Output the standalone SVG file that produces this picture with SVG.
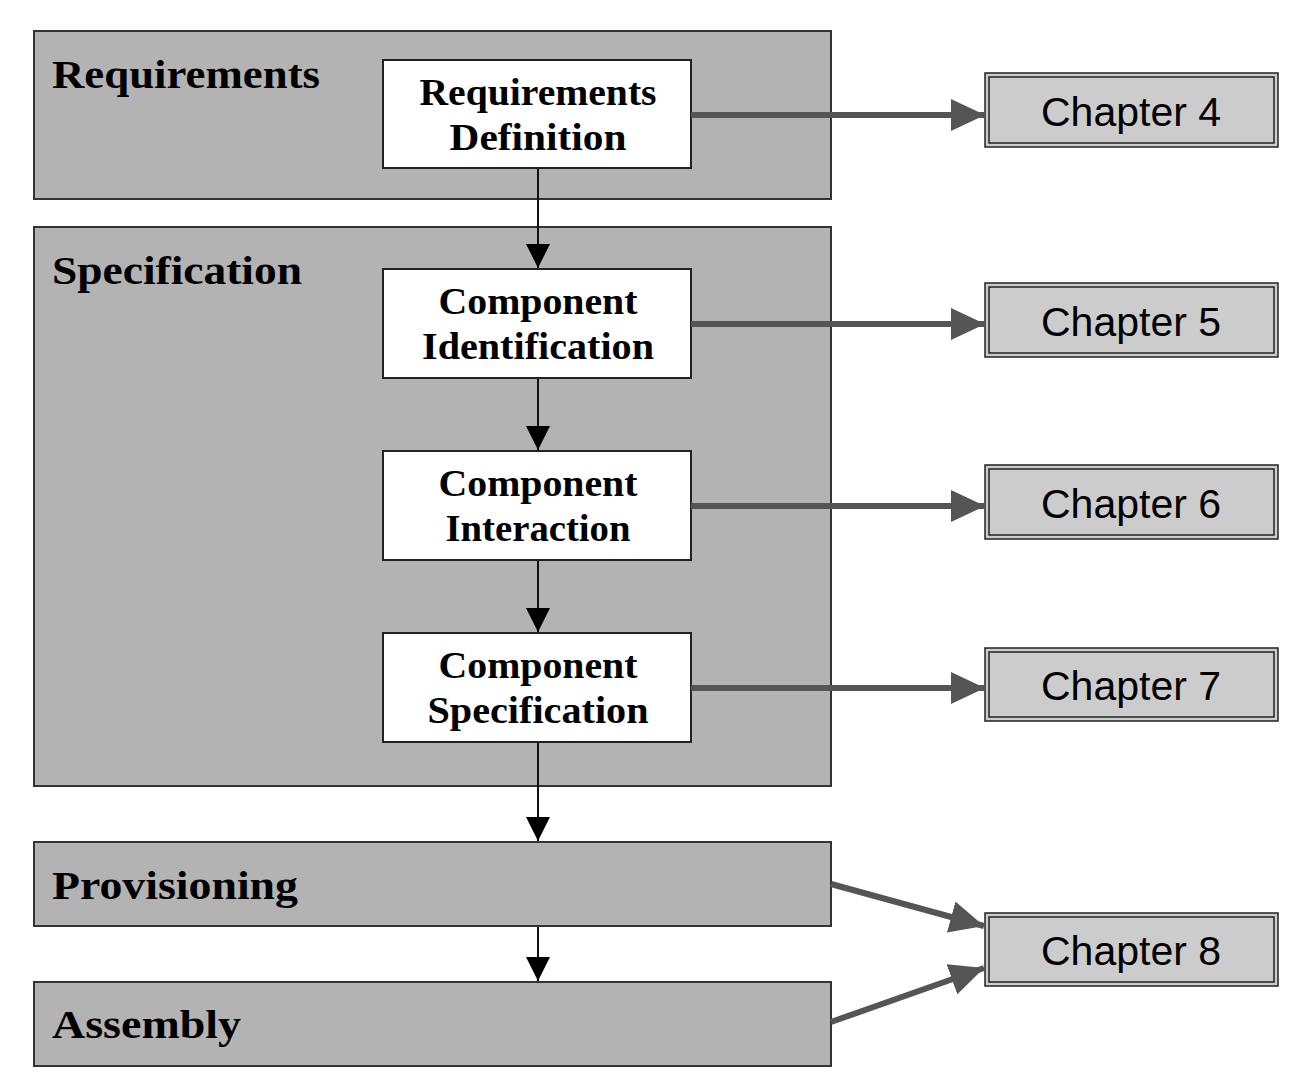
<svg xmlns="http://www.w3.org/2000/svg" width="1308" height="1086" viewBox="0 0 1308 1086">
<defs>
<style>
.phase{fill:#b3b3b3;stroke:#333;stroke-width:2}
.act{fill:#fff;stroke:#222;stroke-width:2}
.chap{fill:#cccccc;stroke:#222;stroke-width:1.5}
.ptitle{font-family:"Liberation Serif",serif;font-weight:bold;font-size:39px;fill:#000}
.atext{font-family:"Liberation Serif",serif;font-weight:bold;font-size:37px;fill:#000;text-anchor:middle}
.ctext{font-family:"Liberation Sans",Arial,sans-serif;font-size:41px;fill:#000;text-anchor:middle}
.thin{stroke:#111;stroke-width:2;fill:none}
.thick{stroke:#555;stroke-width:6;fill:none}
</style>
<marker id="ah" markerUnits="userSpaceOnUse" markerWidth="24" markerHeight="28" refX="24" refY="12" orient="auto" viewBox="0 0 24 24">
<path d="M0,0 L24,12 L0,24 Z" fill="#000"/>
</marker>
<marker id="ahg" markerUnits="userSpaceOnUse" markerWidth="34" markerHeight="32" refX="34" refY="16" orient="auto" viewBox="0 0 34 32">
<path d="M0,0 L34,16 L0,32 Z" fill="#555"/>
</marker>
</defs>

<g id="phase-requirements">
<rect class="phase" x="34" y="31" width="797" height="168"/>
<text class="ptitle" x="52" y="88" textLength="268" lengthAdjust="spacingAndGlyphs">Requirements</text>
</g>
<g id="phase-specification">
<rect class="phase" x="34" y="227" width="797" height="559"/>
<text class="ptitle" x="52" y="284" textLength="250" lengthAdjust="spacingAndGlyphs">Specification</text>
</g>
<g id="phase-provisioning">
<rect class="phase" x="34" y="842" width="797" height="84"/>
<text class="ptitle" x="52" y="899" textLength="246" lengthAdjust="spacingAndGlyphs">Provisioning</text>
</g>
<g id="phase-assembly">
<rect class="phase" x="34" y="982" width="797" height="84"/>
<text class="ptitle" x="52" y="1038" textLength="189" lengthAdjust="spacingAndGlyphs">Assembly</text>
</g>

<g id="req-def">
<rect class="act" x="383" y="60" width="308" height="108"/>
<text class="atext" x="538" y="105" textLength="237" lengthAdjust="spacingAndGlyphs">Requirements</text>
<text class="atext" x="538" y="150" textLength="177" lengthAdjust="spacingAndGlyphs">Definition</text>
</g>
<g id="comp-ident">
<rect class="act" x="383" y="269" width="308" height="109"/>
<text class="atext" x="538" y="314" textLength="199" lengthAdjust="spacingAndGlyphs">Component</text>
<text class="atext" x="538" y="359" textLength="232" lengthAdjust="spacingAndGlyphs">Identification</text>
</g>
<g id="comp-inter">
<rect class="act" x="383" y="451" width="308" height="109"/>
<text class="atext" x="538" y="496" textLength="199" lengthAdjust="spacingAndGlyphs">Component</text>
<text class="atext" x="538" y="541" textLength="185" lengthAdjust="spacingAndGlyphs">Interaction</text>
</g>
<g id="comp-spec">
<rect class="act" x="383" y="633" width="308" height="109"/>
<text class="atext" x="538" y="678" textLength="199" lengthAdjust="spacingAndGlyphs">Component</text>
<text class="atext" x="538" y="723" textLength="221" lengthAdjust="spacingAndGlyphs">Specification</text>
</g>

<g id="ch4">
<rect class="chap" x="985" y="73" width="293" height="74"/>
<rect fill="none" stroke="#222" stroke-width="1.5" x="989" y="77" width="285" height="66"/>
<text class="ctext" x="1131" y="126">Chapter 4</text>
</g>
<g id="ch5">
<rect class="chap" x="985" y="283" width="293" height="74"/>
<rect fill="none" stroke="#222" stroke-width="1.5" x="989" y="287" width="285" height="66"/>
<text class="ctext" x="1131" y="336">Chapter 5</text>
</g>
<g id="ch6">
<rect class="chap" x="985" y="465" width="293" height="74"/>
<rect fill="none" stroke="#222" stroke-width="1.5" x="989" y="469" width="285" height="66"/>
<text class="ctext" x="1131" y="518">Chapter 6</text>
</g>
<g id="ch7">
<rect class="chap" x="985" y="648" width="293" height="73"/>
<rect fill="none" stroke="#222" stroke-width="1.5" x="989" y="652" width="285" height="65"/>
<text class="ctext" x="1131" y="700">Chapter 7</text>
</g>
<g id="ch8">
<rect class="chap" x="985" y="913" width="293" height="73"/>
<rect fill="none" stroke="#222" stroke-width="1.5" x="989" y="917" width="285" height="65"/>
<text class="ctext" x="1131" y="965">Chapter 8</text>
</g>

<g id="connectors">
<line class="thin" x1="538" y1="169" x2="538" y2="268" marker-end="url(#ah)"/>
<line class="thin" x1="538" y1="379" x2="538" y2="450" marker-end="url(#ah)"/>
<line class="thin" x1="538" y1="561" x2="538" y2="632" marker-end="url(#ah)"/>
<line class="thin" x1="538" y1="743" x2="538" y2="841" marker-end="url(#ah)"/>
<line class="thin" x1="538" y1="927" x2="538" y2="981" marker-end="url(#ah)"/>
<line class="thick" x1="691" y1="115" x2="985" y2="115" marker-end="url(#ahg)"/>
<line class="thick" x1="691" y1="324" x2="985" y2="324" marker-end="url(#ahg)"/>
<line class="thick" x1="691" y1="506" x2="985" y2="506" marker-end="url(#ahg)"/>
<line class="thick" x1="691" y1="688" x2="985" y2="688" marker-end="url(#ahg)"/>
<line class="thick" x1="831" y1="884" x2="984" y2="926" marker-end="url(#ahg)"/>
<line class="thick" x1="831" y1="1022" x2="984" y2="968" marker-end="url(#ahg)"/>
</g>
</svg>
